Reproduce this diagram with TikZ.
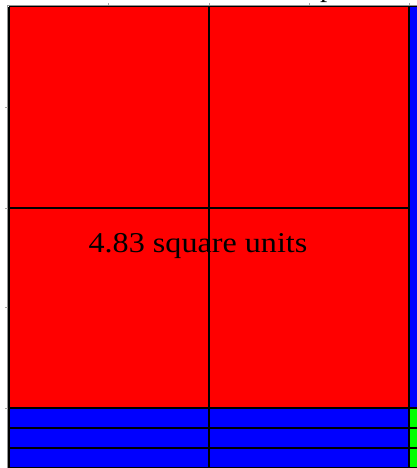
\documentclass[tikz,border=0pt]{standalone}
\usepackage{fontspec}
\usepackage{graphicx}
\setmainfont{Liberation Serif}
\begin{document}
\begin{tikzpicture}[x=1pt,y=1pt,
  gridline/.style={draw=black,line width=2pt},
  thingrid/.style={draw=black,line width=1.6pt},
  axisline/.style={draw=gray!85,line width=1.2pt},
  tickmark/.style={draw=gray!70,line width=0.8pt},
  bigtext/.style={font=\fontsize{28.7}{32}\selectfont,inner sep=0pt}]
\useasboundingbox (0,-468) rectangle (417,0);
\fill[white] (0,-468) rectangle (417,0);
% axes
\draw[axisline] (7.4,-5.4) -- (420,-5.4);
\draw[axisline] (7.4,-5.4) -- (7.4,-470);
\foreach \xx in {108.5,209,309,409} \draw[tickmark] (\xx,-5.5) -- (\xx,-3.3);
\foreach \yy in {107,208,307.5,408} \draw[tickmark] (7.5,-\yy) -- (5.2,-\yy);
% fills
\fill[red] (8.5,-6.5) rectangle (409,-408);
\fill[blue] (8.5,-408) rectangle (409,-470);
\fill[blue] (409,-6.5) rectangle (425,-408);
\fill[green] (409,-408) rectangle (425,-470);
% grid lines
\draw[thingrid] (8.5,-6.6) -- (425,-6.6);
\draw[thingrid] (8.8,-6.6) -- (8.8,-470);
\draw[gridline] (209,-6.6) -- (209,-470);
\draw[gridline] (409,-6.6) -- (409,-470);
\draw[gridline] (8.6,-208) -- (409,-208);
\foreach \yy in {408,428,448,468} \draw[gridline] (8.6,-\yy) -- (425,-\yy);
% texts
\node[bigtext,anchor=base] (area) at (198,-252) {\scalebox{1.12}[1]{4.83 square units}};
\node[bigtext,anchor=base west] (ttl) at (320,3.2) {p};
\end{tikzpicture}
\end{document}
